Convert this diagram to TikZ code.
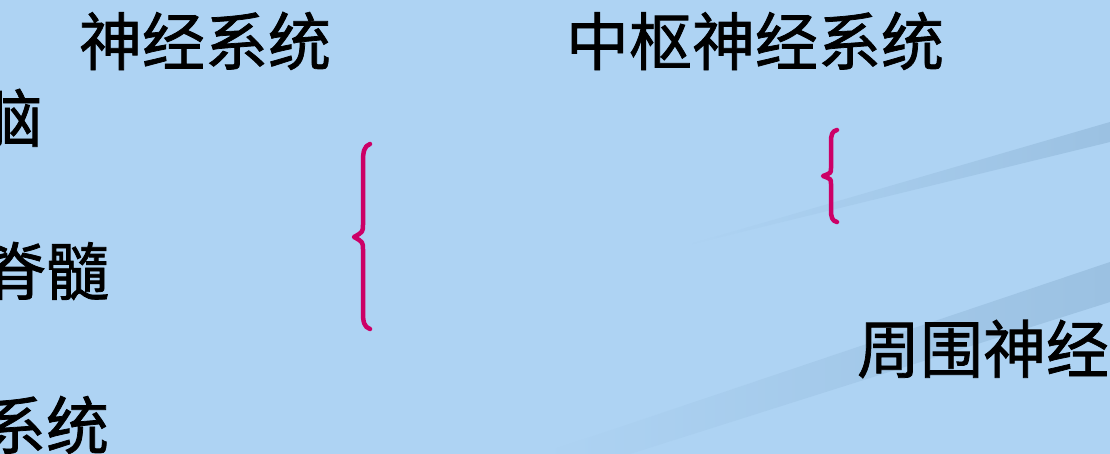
\documentclass[tikz,border=0pt]{standalone}
\usepackage{fontspec}
\newfontfamily\cjk[FakeBold=1.2]{Noto Sans CJK SC}
\definecolor{bg}{RGB}{174,211,243}
\definecolor{streak}{RGB}{155,193,226}
\definecolor{bracecol}{RGB}{204,0,102}
\begin{document}
\begin{tikzpicture}[x=1pt,y=-1pt,
  lbl/.style={inner sep=0pt,font=\cjk\fontsize{63pt}{63pt}\selectfont,text=black},
  bracepath/.style={draw=bracecol,line width=4.5pt,line cap=round,line join=round}]
\useasboundingbox (0,0) rectangle (1110,454);
\clip (0,0) rectangle (1110,454);
\fill[bg] (0,0) rectangle (1110,454);
% streaks
\shade[left color=bg,right color=streak] (680,247) -- (1110,122) -- (1110,142) -- cycle;
\shade[left color=bg,right color=streak] (540,454) -- (630,454) -- (1110,302) -- (1110,262) -- cycle;
% texts
\node[lbl] (t1) at (205,41) {神经系统};
\node[lbl] (t2) at (755,41) {中枢神经系统};
\node[lbl] (t3) at (11,118) {脑};
\node[lbl] (t4) at (46,271) {脊髓};
\node[lbl] (t5) at (46,425) {系统};
\node[lbl] (t6) at (983,349) {周围神经};
% braces
\draw[bracepath] (370,144) .. controls (364,146) and (363,152) .. (363,162) -- (363,224)
  .. controls (363,232) .. (354,237) .. controls (363,242) .. (363,250) -- (363,312)
  .. controls (363,322) and (364,327) .. (370,329);
\draw[bracepath] (837,130) .. controls (832,131) and (831,135) .. (831,142) -- (831,168)
  .. controls (831,173) .. (823,176) .. controls (831,179) .. (831,184) -- (831,210)
  .. controls (831,217) and (832,221) .. (837,222);
\end{tikzpicture}
\end{document}
